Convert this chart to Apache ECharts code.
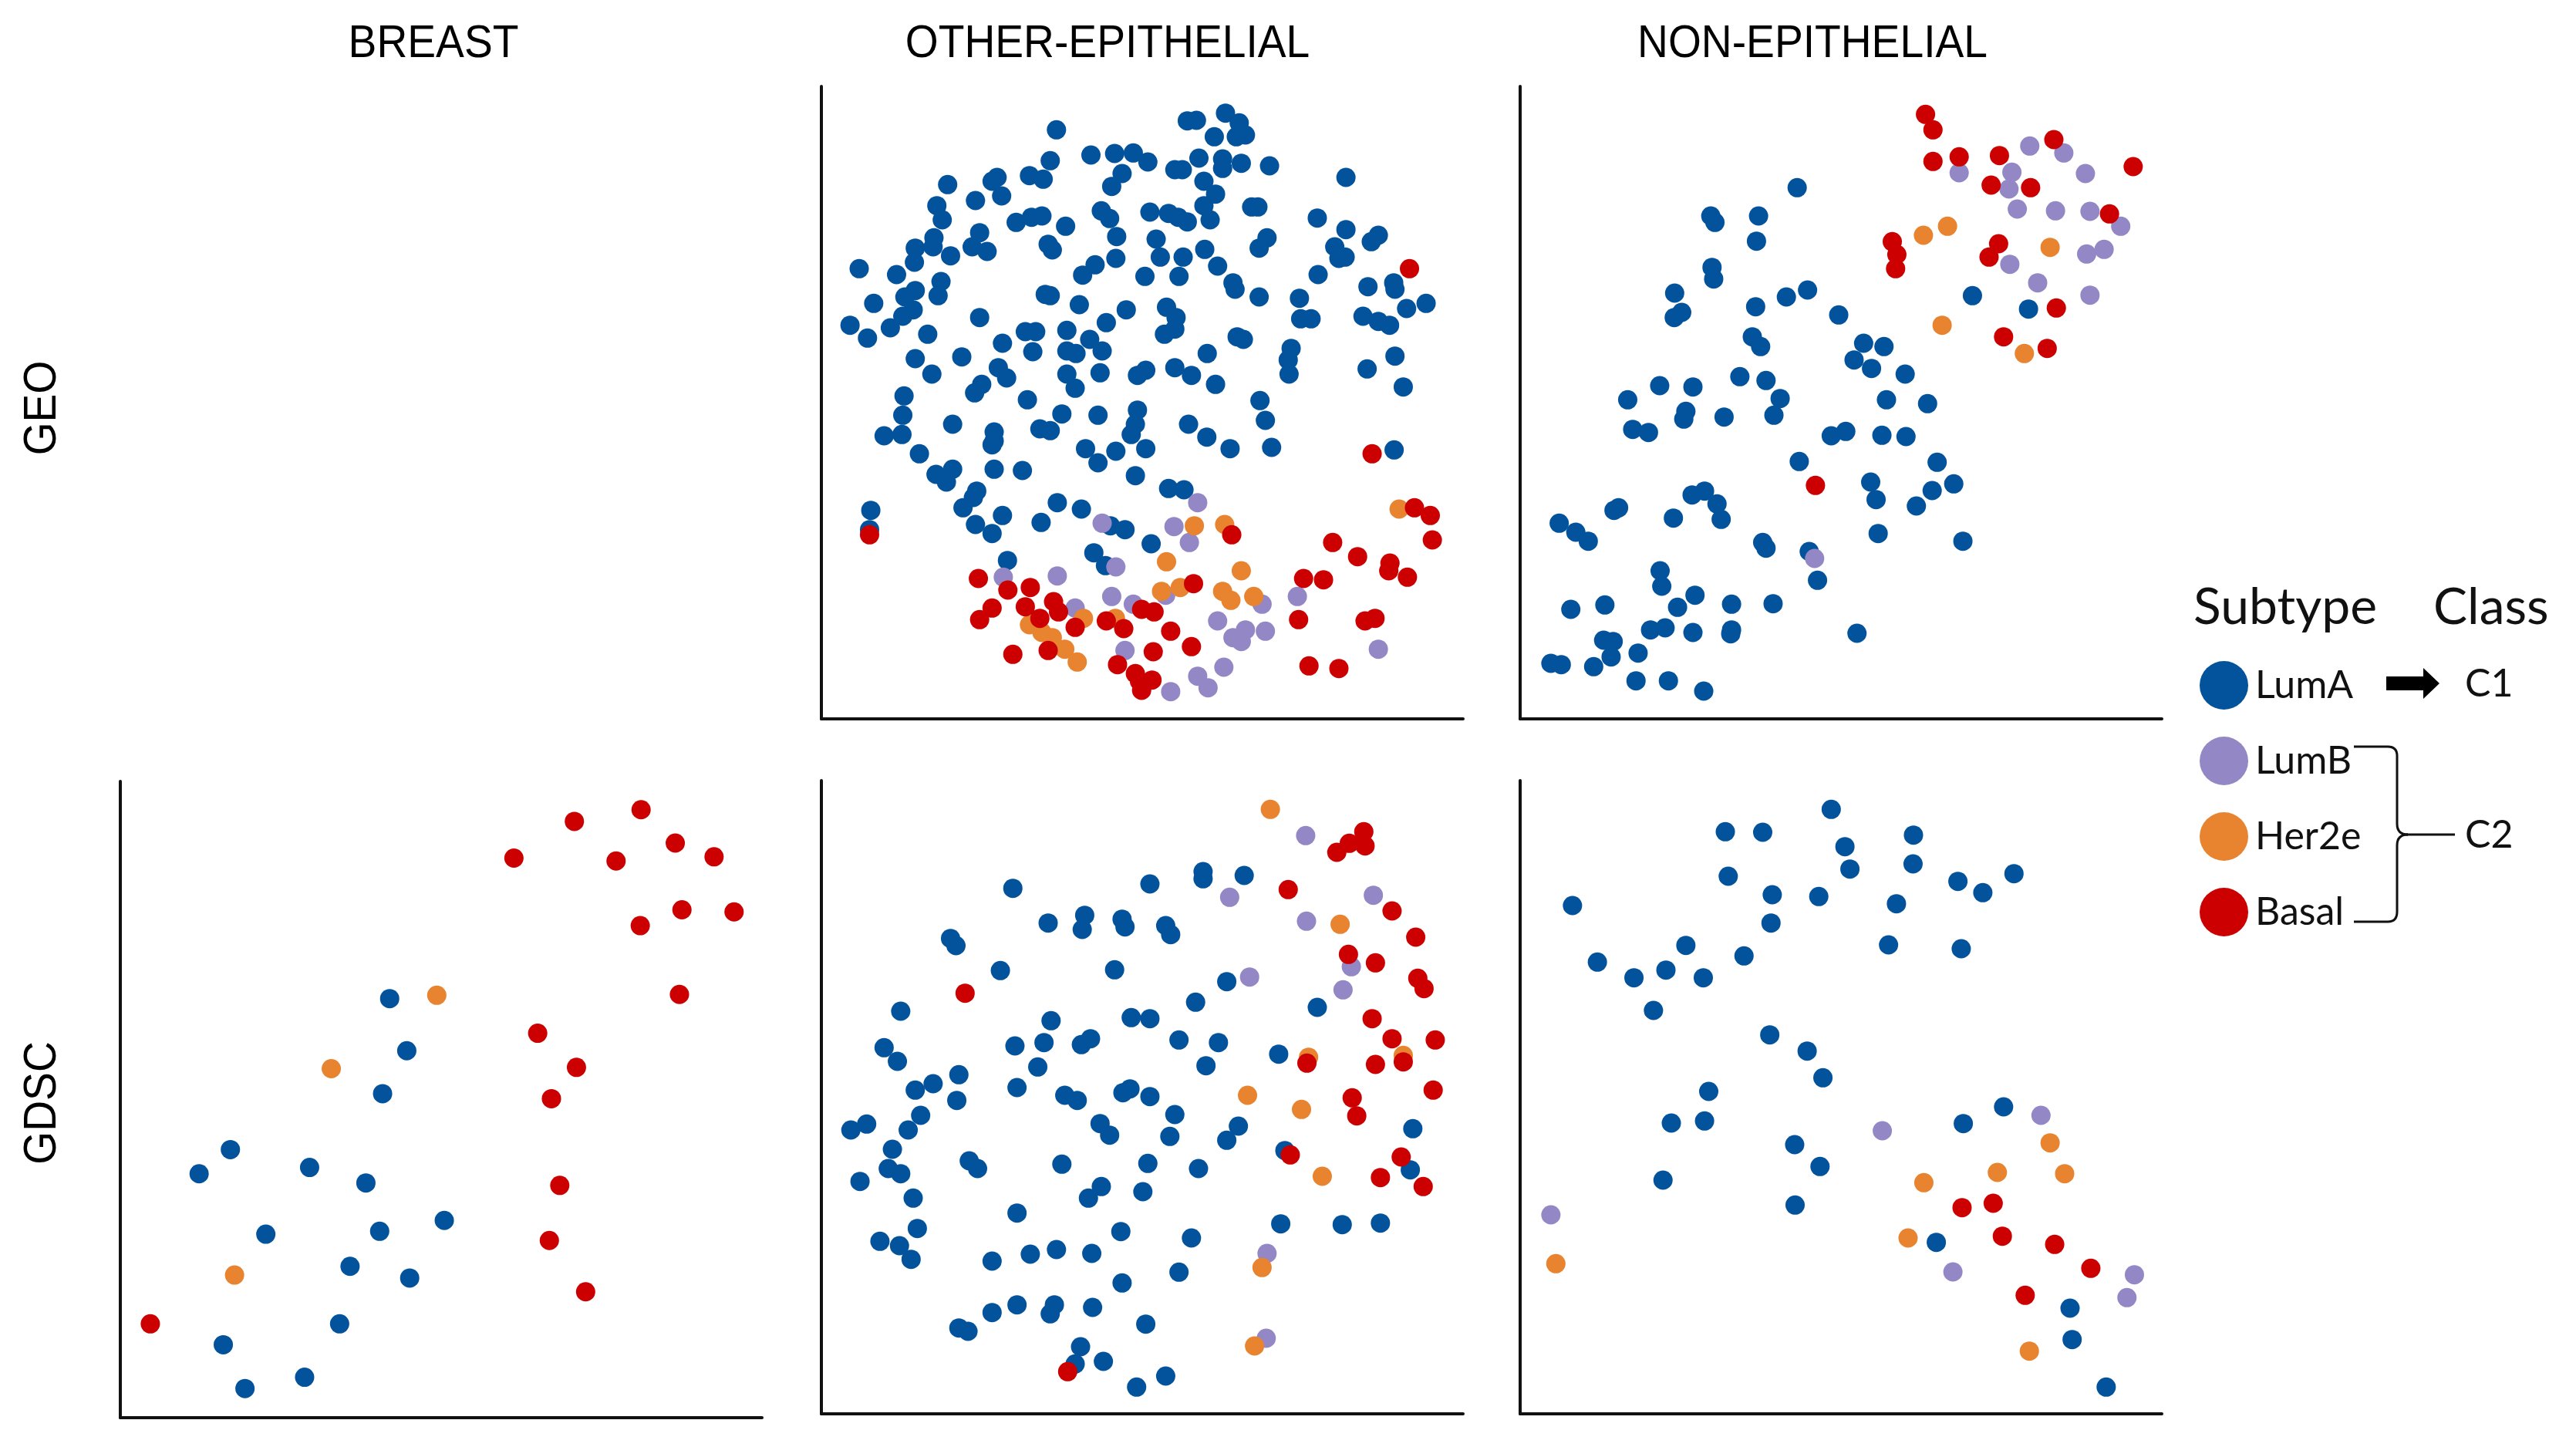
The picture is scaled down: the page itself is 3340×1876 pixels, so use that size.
<!DOCTYPE html>
<html>
<head>
<meta charset="utf-8">
<title>Subtype scatter</title>
<script src="https://cdn.jsdelivr.net/npm/echarts@6/dist/echarts.min.js"></script>
<style>
  html, body { margin: 0; padding: 0; background: #fff; }
  #chart { width: 3340px; height: 1876px; }
</style>
</head>
<body>
<div id="chart"></div>
<script>
// embedding coordinates, arbitrary units per panel (y grows downwards)
let geoOtherLumA = [
  [575,205],[890,170],[912,168],[982,140],[1015,178],[1030,225],[1008,232],[955,232],
  [560,325],[658,303],[715,297],[760,295],[795,330],[860,360],[878,360],[918,315],[975,318],[975,355],[1020,335],[1088,345],
  [733,375],[708,425],[930,405],[958,455],[1272,390],
  [313,418],[432,390],[420,405],[443,462],[510,383],[543,397],
  [380,480],[287,500],[300,555],[1045,505],[1060,505],
  [683,520],[703,550],[800,525],[845,530],[868,545],[890,563],[930,500],[945,555],[1203,548],
  [478,565],[515,545],[540,540],[597,580],
  [390,605],[280,625],[235,665],[278,660],[320,695],[372,660],[408,678],[233,720],
  [555,650],[565,672],[720,620],[815,630],[825,700],[880,700],[932,670],
  [1082,625],[1063,665],[1272,593],[1350,615],[1333,640],[1245,660],[1270,700],[1255,705],
  [100,745],[190,768],[668,730],[638,770],[718,705],[788,775],[870,775],[963,735],[1205,768],
  [235,830],[297,795],[290,850],[210,855],[1000,800],[1005,825],[1325,815],[1387,800],[1390,825],
  [548,845],[560,850],[630,885],[743,905],[1063,855],[1160,860],
  [135,880],[230,905],[205,930],[840,895],[863,935],[860,980],[835,1000],[1418,900],[1465,880],
  [1163,940],[1188,940],[1313,930],[1350,950],[1377,965],[390,935],[695,955],
  [78,965],[120,1015],[175,975],[265,1000],[500,990],[525,990],[600,985],[655,1020],[685,1065],
  [1010,1010],[1025,1020],[445,1035],[518,1068],[600,1065],[622,1075],
  [1140,1055],[1133,1100],[1135,1155],[235,1095],[347,1088],[938,1075],[1390,1085],[1323,1135],[1410,1205],
  [435,1130],[455,1170],[395,1195],[378,1228],
  [275,1155],[680,1150],[600,1155],[620,1210],[770,1160],[790,1140],[860,1130],[900,1160],[958,1195],
  [208,1240],[505,1255],[1065,1258],
  [205,1315],[588,1310],[675,1315],[770,1295],[765,1350],[1078,1335],[325,1350],[160,1395],[203,1390],
  [425,1380],[425,1415],[420,1430],[535,1368],[560,1375],[755,1390],[790,1445],[893,1350],[937,1400],
  [993,1445],[1093,1440],[245,1465],[645,1445],[675,1500],[718,1455],[285,1545],[310,1575],[325,1525],
  [425,1525],[493,1530],[765,1550],[1388,1450],[383,1610],[375,1635],[350,1675],[445,1705],[380,1740],
  [420,1775],[845,1600],[882,1605],[128,1685],[125,1760],[577,1655],[635,1680],[538,1732],[705,1745],
  [740,1760],[803,1815],[457,1880],[665,1850],[693,1900]
];
let geoOtherLumB = [
  [915,1655],[685,1735],[858,1748],[895,1810],[718,1905],[447,1945],[577,1940],[838,2015],[708,2020],
  [760,2050],[1070,2050],[1155,2020],[620,2065],[963,2115],[1000,2180],[1020,2195],[1030,2150],[1078,2155],
  [740,2230],[1350,2225],[850,2390],[915,2330],[940,2375],[978,2295]
];
let geoOtherHer2e = [
  [907,1745],[980,1740],[1400,1680],[840,1885],[1020,1920],[873,1985],[828,2000],[975,2000],[995,2035],
  [1050,2020],[640,2105],[510,2130],[540,2160],[565,2180],[595,2225],[625,2275],[717,2105]
];
let geoOtherBasal = [
  [1425,745],[1335,1465],[125,1780],[997,1780],[1437,1675],[1475,1705],[1480,1800],[1240,1810],[1300,1865],
  [1378,1890],[1375,1920],[1420,1945],[387,1950],[458,1995],[512,1985],[1170,1950],[1218,1955],[905,1970],
  [780,2070],[810,2080],[420,2065],[500,2060],[568,2040],[580,2080],[535,2105],[390,2110],[620,2140],
  [695,2115],[737,2145],[850,2155],[1158,2110],[1318,2115],[1342,2105],[470,2245],[555,2230],[808,2235],
  [900,2215],[722,2285],[765,2320],[775,2350],[805,2345],[780,2385],[1183,2290],[1255,2300]
];

let geoNonLumA = [
  [678,430],[470,540],[480,565],[585,540],[580,638],[473,740],[477,785],[383,840],[400,915],[382,935],
  [578,893],[652,855],[703,828],[778,925],[1100,850],[1235,902],[570,1010],[590,1048],[838,1035],[887,1048],
  [815,1100],[857,1133],[938,1155],[540,1165],[603,1180],[347,1200],[427,1205],[270,1255],[637,1250],
  [893,1255],[992,1270],
  [410,1300],[405,1330],[502,1322],[622,1315],[282,1370],[320,1382],[760,1395],[795,1378],[882,1393],
  [940,1398],[683,1495],[1015,1498],[855,1575],[868,1643],[1003,1608],[1055,1582],[965,1668],[237,1685],
  [248,1675],[380,1715],[425,1625],[455,1610],[485,1660],[495,1720],[105,1735],[145,1770],[175,1805],
  [873,1775],[1077,1805],[595,1810],[603,1832],[707,1845],[727,1957],[348,1920],[352,1980],[432,2015],
  [133,2070],[215,2053],[390,2062],[520,2050],[620,2048],[325,2150],[360,2142],[427,2160],[520,2150],
  [518,2165],[822,2163],[212,2190],[235,2195],[230,2255],[295,2240],[85,2280],[110,2285],[188,2293],
  [290,2348],[368,2348],[453,2388]
];
let geoNonLumB = [
  [1068,372],[1195,370],[1188,435],[1238,268],[1320,295],[1372,375],[1208,513],[1300,520],[1383,522],
  [1457,580],[1190,728],[1375,688],[1417,670],[1257,800],[1383,848],[720,1872]
];
let geoNonHer2e = [[982,615],[1040,580],[1287,662],[1027,965],[1225,1075]];
let geoNonBasal = [
  [987,145],[1005,205],[1005,328],[1068,310],[1165,305],[1145,420],[1240,430],[1296,243],[1487,348],
  [1430,532],[907,640],[918,690],[915,745],[1163,648],[1140,700],[1302,898],[1175,1010],[1280,1055],[722,1588]
];

let gdscBreastLumA = [
  [657,545],[698,670],[640,773],[275,907],[200,965],[465,950],[600,987],[788,1077],[360,1110],[633,1103],
  [562,1187],[705,1215],[537,1325],[258,1375],[310,1480],[453,1453]
];
let gdscBreastLumB = [];
let gdscBreastHer2e = [[770,537],[517,713],[285,1208]];
let gdscBreastBasal = [
  [955,208],[1100,120],[1260,92],[1342,172],[1435,205],[1200,215],[1358,332],[1483,337],[1258,370],
  [1352,535],[1012,628],[1105,710],[1045,785],[1065,993],[1040,1125],[1127,1248],[83,1325]
];

let gdscOtherLumA = [
  [928,390],[928,418],[1027,405],[800,438],[470,455],[555,590],[643,560],[637,615],[733,575],[740,605],
  [838,600],[850,635],[320,650],[333,678],[440,775],[715,772],[985,818],[200,933],[910,898],[1203,918],
  [562,970],[755,958],[800,962],[160,1075],[192,1128],[475,1068],[545,1055],[635,1063],[657,1040],
  [870,1045],[965,1055],[935,1145],[530,1150],[1110,1100],[340,1180],[278,1215],[235,1240],[480,1230],
  [595,1260],[625,1280],[735,1250],[752,1235],[800,1265],[335,1280],
  [80,1395],[118,1372],[218,1395],[248,1338],[180,1470],[170,1545],[200,1565],[102,1595],[230,1660],
  [860,1335],[680,1370],[703,1415],[848,1420],[1013,1380],[985,1435],[1433,1390],[1125,1475],[1427,1550],
  [365,1515],[385,1545],[588,1528],[795,1525],[917,1545],[683,1615],[652,1660],[783,1635],[480,1718],
  [240,1778],[150,1828],[197,1845],[225,1898],[730,1790],[900,1815],[420,1905],[512,1878],[575,1860],
  [660,1875],[1115,1760],[1263,1763],[1355,1757],[870,1948],[733,1990],[420,2105],[480,2075],[570,2075],
  [560,2110],[662,2085],[790,2150],[340,2165],[362,2178],[633,2238],[620,2305],[688,2295],[838,2352],[768,2395]
];
let gdscOtherLumB = [
  [1175,250],[992,490],[1338,482],[1177,583],[1285,760],[1040,800],[1265,850],[1082,1875],[1080,2205]
];
let gdscOtherHer2e = [
  [1090,148],[1258,595],[1410,1105],[1182,1112],[1035,1260],[1165,1315],[1215,1575],[1070,1930],[1052,2235]
];
let gdscOtherBasal = [
  [1250,315],[1280,280],[1315,235],[1318,290],[1133,460],[1383,543],[1440,645],[1278,712],[1343,745],
  [1445,805],[1460,845],[355,863],[1335,962],[1383,1040],[1487,1045],[1410,1130],[1343,1140],[1178,1135],
  [1287,1270],[1482,1240],[1298,1340],[1138,1492],[1405,1500],[1355,1580],[1458,1615],[602,2335]
];

let gdscNonLumA = [
  [760,148],[505,235],[595,237],[793,293],[958,248],[512,408],[805,380],[957,360],[618,480],[730,487],
  [917,515],[1065,428],[1125,472],[1200,398],[137,522],[615,590],[410,677],[550,718],[898,675],[1073,690],
  [197,742],[285,803],[362,773],[452,803],[332,930],[612,1025],[702,1088],[740,1192],[465,1245],
  [375,1368],[455,1360],[672,1452],[733,1537],[355,1590],[673,1687],[1078,1370],[1175,1305],[1013,1832],
  [1335,2088],[1340,2210],[1422,2395]
];
let gdscNonLumB = [[883,1398],[1265,1338],[85,1725],[1053,1947],[1490,1958],[1472,2047]];
let gdscNonHer2e = [[1287,1445],[1160,1560],[1322,1565],[983,1600],[97,1915],[945,1815],[1237,2255]];
let gdscNonBasal = [[1075,1697],[1150,1680],[1172,1808],[1298,1840],[1385,1933],[1227,2038]];

let subtypes = ['LumA', 'LumB', 'Her2e', 'Basal'];
let subtypeColors = ['#03529c', '#9487c5', '#e8832f', '#cc0000'];
let columnTitles = ['BREAST', 'OTHER-EPITHELIAL', 'NON-EPITHELIAL'];
let rowTitles = ['GEO', 'GDSC'];
let classLabels = ['C1', 'C2'];

let panels = [
  {box: {left: 1065, top: 112, width: 832, height: 820}, x: [9, 1554], y: [36, 2496],
    data: [geoOtherLumA, geoOtherLumB, geoOtherHer2e, geoOtherBasal]},
  {box: {left: 1971, top: 112, width: 832, height: 820}, x: [11, 1556], y: [36, 2496],
    data: [geoNonLumA, geoNonLumB, geoNonHer2e, geoNonBasal]},
  {box: {left: 156, top: 1013, width: 832, height: 825}, x: [11, 1550], y: [24, 1550],
    data: [gdscBreastLumA, gdscBreastLumB, gdscBreastHer2e, gdscBreastBasal]},
  {box: {left: 1065, top: 1012, width: 832, height: 821}, x: [9, 1554], y: [36, 2499],
    data: [gdscOtherLumA, gdscOtherLumB, gdscOtherHer2e, gdscOtherBasal]},
  {box: {left: 1971, top: 1012, width: 832, height: 821}, x: [11, 1556], y: [36, 2499],
    data: [gdscNonLumA, gdscNonLumB, gdscNonHer2e, gdscNonBasal]}
];

let axisLine = {show: true, onZero: false, lineStyle: {color: '#111', width: 4}};
let grid = [], xAxis = [], yAxis = [], series = [];
panels.forEach((p, i) => {
  grid.push(p.box);
  xAxis.push({gridIndex: i, type: 'value', min: p.x[0], max: p.x[1], position: 'bottom',
    axisLine: axisLine, axisTick: {show: false}, axisLabel: {show: false}, splitLine: {show: false}});
  yAxis.push({gridIndex: i, type: 'value', inverse: true, min: p.y[0], max: p.y[1], position: 'left',
    axisLine: axisLine, axisTick: {show: false}, axisLabel: {show: false}, splitLine: {show: false}});
  subtypes.forEach((name, k) => {
    series.push({
      type: 'scatter', name: name, xAxisIndex: i, yAxisIndex: i,
      data: p.data[k], symbolSize: 25, silent: true,
      itemStyle: {color: subtypeColors[k], opacity: 1}
    });
  });
});

let titleFont = '60px "Liberation Sans", Arial, sans-serif';
let legendFont = '"Lato", "Open Sans", sans-serif';
let titleX = [562, 1436, 2350];
let rowY = [529, 1430];

let graphic = [];
columnTitles.forEach((t, i) => {
  graphic.push({type: 'text', x: titleX[i], y: 57, scaleX: 0.92,
    style: {text: t, font: titleFont, fill: '#000', textAlign: 'center', textVerticalAlign: 'middle'}});
});
rowTitles.forEach((t, i) => {
  graphic.push({type: 'text', x: 55, y: rowY[i], rotation: Math.PI / 2, scaleX: 0.92,
    style: {text: t, font: titleFont, fill: '#000', textAlign: 'center', textVerticalAlign: 'middle'}});
});
graphic.push(
  {type: 'text', x: 2844, y: 788, style: {text: 'Subtype', font: '66px ' + legendFont, fill: '#111', textAlign: 'left', textVerticalAlign: 'middle'}},
  {type: 'text', x: 3155, y: 788, style: {text: 'Class', font: '66px ' + legendFont, fill: '#111', textAlign: 'left', textVerticalAlign: 'middle'}},
  {type: 'text', x: 3196, y: 887, style: {text: classLabels[0], font: '50px ' + legendFont, fill: '#111', textAlign: 'left', textVerticalAlign: 'middle'}},
  {type: 'text', x: 3196, y: 1083, style: {text: classLabels[1], font: '50px ' + legendFont, fill: '#111', textAlign: 'left', textVerticalAlign: 'middle'}},
  {type: 'polygon', shape: {points: [[3094,877],[3142,877],[3142,866],[3163,886],[3142,906],[3142,895],[3094,895]]}, style: {fill: '#000'}}
);
// curly bracket grouping LumB, Her2e and Basal
let bracket = {stroke: '#111', lineWidth: 3, fill: null};
graphic.push(
  {type: 'line', shape: {x1: 3052, y1: 968, x2: 3096, y2: 968}, style: bracket},
  {type: 'bezierCurve', shape: {x1: 3096, y1: 968, cpx1: 3108, cpy1: 968, x2: 3108, y2: 980}, style: bracket},
  {type: 'line', shape: {x1: 3108, y1: 980, x2: 3108, y2: 1068}, style: bracket},
  {type: 'bezierCurve', shape: {x1: 3108, y1: 1068, cpx1: 3108, cpy1: 1082, x2: 3122, y2: 1082}, style: bracket},
  {type: 'bezierCurve', shape: {x1: 3122, y1: 1082, cpx1: 3108, cpy1: 1082, x2: 3108, y2: 1096}, style: bracket},
  {type: 'line', shape: {x1: 3120, y1: 1082, x2: 3183, y2: 1082}, style: bracket},
  {type: 'line', shape: {x1: 3108, y1: 1096, x2: 3108, y2: 1182}, style: bracket},
  {type: 'bezierCurve', shape: {x1: 3108, y1: 1182, cpx1: 3108, cpy1: 1195, x2: 3096, y2: 1195}, style: bracket},
  {type: 'line', shape: {x1: 3096, y1: 1195, x2: 3052, y2: 1195}, style: bracket}
);

let chart = echarts.init(document.getElementById('chart'), null, {renderer: 'canvas'});
chart.setOption({
  backgroundColor: '#fff',
  animation: false,
  grid: grid,
  xAxis: xAxis,
  yAxis: yAxis,
  legend: {
    data: subtypes, orient: 'vertical', left: 2847, top: 852,
    icon: 'circle', itemWidth: 63, itemHeight: 63, itemGap: 35, selectedMode: false,
    textStyle: {fontFamily: 'Lato', fontSize: 50, color: '#111', padding: [0, 0, 0, 4]}
  },
  series: series,
  graphic: graphic
});
</script>
</body>
</html>
